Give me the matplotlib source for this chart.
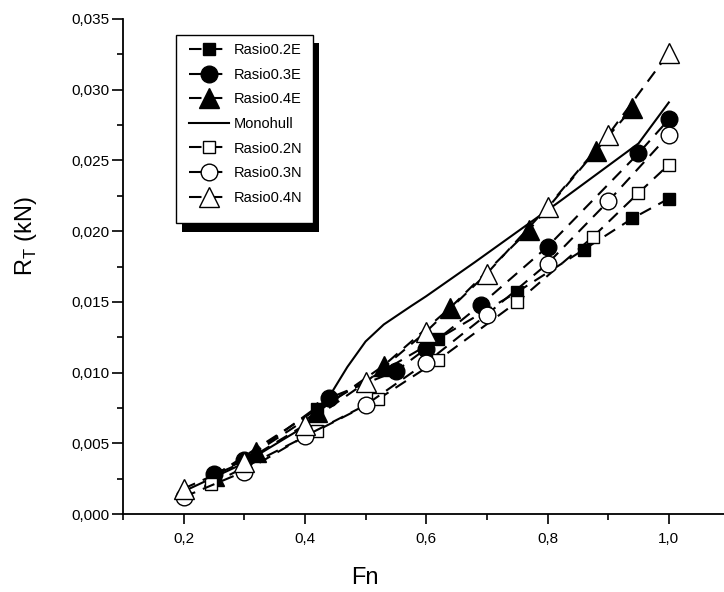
import matplotlib
matplotlib.use("Agg")
import matplotlib.pyplot as plt
from matplotlib.patches import Rectangle
from matplotlib.ticker import MultipleLocator, FixedLocator, FixedFormatter

# ---- data ----
fn_02E = [0.25, 0.42, 0.62, 0.75, 0.86, 0.94, 1.00]
rt_02E = [0.0027, 0.0074, 0.0124, 0.0157, 0.0187, 0.0209, 0.0223]

fn_03E = [0.25, 0.30, 0.44, 0.55, 0.60, 0.69, 0.80, 0.95, 1.00]
rt_03E = [0.0028, 0.0038, 0.0082, 0.0101, 0.0117, 0.0148, 0.0189, 0.0255, 0.0279]

fn_04E = [0.25, 0.32, 0.42, 0.53, 0.64, 0.77, 0.88, 0.94]
rt_04E = [0.0027, 0.0044, 0.0072, 0.0105, 0.0146, 0.0201, 0.0257, 0.0287]

fn_mono = [0.20, 0.30, 0.40, 0.44, 0.47, 0.50, 0.53, 0.575, 0.60, 0.68, 0.82, 0.95, 1.00]
rt_mono = [0.0016, 0.0036, 0.0062, 0.0083, 0.0104, 0.0122, 0.0134, 0.0147, 0.0154, 0.0178, 0.0221, 0.0262, 0.0291]

fn_02N = [0.245, 0.42, 0.52, 0.62, 0.75, 0.875, 0.95, 1.00]
rt_02N = [0.0021, 0.0059, 0.0081, 0.0109, 0.0150, 0.0196, 0.0227, 0.0247]

fn_03N = [0.20, 0.30, 0.40, 0.50, 0.60, 0.70, 0.80, 0.90, 1.00]
rt_03N = [0.0012, 0.0030, 0.0055, 0.0077, 0.0107, 0.0141, 0.0177, 0.0221, 0.0268]

fn_04N = [0.20, 0.30, 0.40, 0.50, 0.60, 0.70, 0.80, 0.90, 1.00]
rt_04N = [0.0018, 0.0037, 0.0063, 0.0093, 0.0129, 0.0170, 0.0217, 0.0268, 0.0326]

series_labels = ["Rasio0.2E", "Rasio0.3E", "Rasio0.4E", "Monohull",
                 "Rasio0.2N", "Rasio0.3N", "Rasio0.4N"]

x_ticks = [0.2, 0.4, 0.6, 0.8, 1.0]
x_ticklabels = ["0,2", "0,4", "0,6", "0,8", "1,0"]
y_ticks = [0.000, 0.005, 0.010, 0.015, 0.020, 0.025, 0.030, 0.035]
y_ticklabels = ["0,000", "0,005", "0,010", "0,015", "0,020", "0,025", "0,030", "0,035"]

plt.rcParams["font.family"] = ["Liberation Sans", "DejaVu Sans"]

W, H = 724, 592
fig = plt.figure(figsize=(W / 100, H / 100), dpi=100)
left, bottom = 123 / W, (H - 514) / H
top = (H - 19) / H
ax = fig.add_axes([left, bottom, 1.0 - left, top - bottom])
ax.set_xlim(0.1, 1.091)
ax.set_ylim(0.0, 0.035)

dash = (0, (6, 4))
lw = 1.5
common = dict(lw=lw, color="black", markeredgecolor="black", markeredgewidth=1.0)

ax.plot(fn_02E, rt_02E, linestyle=dash, marker="s", ms=8.5, markerfacecolor="black", label=series_labels[0], **common)
ax.plot(fn_03E, rt_03E, linestyle=dash, marker="o", ms=12, markerfacecolor="black", label=series_labels[1], **common)
ax.plot(fn_04E, rt_04E, linestyle=dash, marker="^", ms=14, markerfacecolor="black", label=series_labels[2], **common)
ax.plot(fn_mono, rt_mono, linestyle="-", lw=lw, color="black", label=series_labels[3])
ax.plot(fn_02N, rt_02N, linestyle=dash, marker="s", ms=8.5, markerfacecolor="white", label=series_labels[4], **common)
ax.plot(fn_03N, rt_03N, linestyle=dash, marker="o", ms=12, markerfacecolor="white", label=series_labels[5], **common)
ax.plot(fn_04N, rt_04N, linestyle=dash, marker="^", ms=14, markerfacecolor="white", label=series_labels[6], **common)

for s in ["top", "right"]:
    ax.spines[s].set_visible(False)
for s in ["left", "bottom"]:
    ax.spines[s].set_linewidth(1.3)

ax.xaxis.set_major_locator(FixedLocator(x_ticks))
ax.xaxis.set_major_formatter(FixedFormatter(x_ticklabels))
ax.xaxis.set_minor_locator(MultipleLocator(0.1))
ax.yaxis.set_major_locator(FixedLocator(y_ticks))
ax.yaxis.set_major_formatter(FixedFormatter(y_ticklabels))
ax.yaxis.set_minor_locator(MultipleLocator(0.0025))

ax.tick_params(axis="x", which="major", direction="out", length=7, width=1.2, labelsize=11, pad=6)
ax.tick_params(axis="x", which="minor", direction="out", length=4, width=1.2)
ax.tick_params(axis="y", which="major", direction="out", length=8, width=1.2, labelsize=11, pad=2)
ax.tick_params(axis="y", which="minor", direction="out", length=4, width=1.2)

fig.text(365 / W, 1 - 578 / H, "Fn", fontsize=17, ha="center", va="center")
fig.text(26 / W, 1 - 236 / H, r"R$_{\mathregular{T}}$ (kN)", fontsize=17, rotation=90,
         ha="center", va="center")

# legend frame with offset black shadow (figure pixel coordinates)
bx0, by0, bx1, by1 = 176, 35, 313, 223


def fig_rect(x0, y0, x1, y1, **kw):
    return Rectangle((x0 / W, 1 - y1 / H), (x1 - x0) / W, (y1 - y0) / H,
                     transform=fig.transFigure, clip_on=False, **kw)


ax.add_patch(fig_rect(bx0 + 6, by0 + 8, bx1 + 6, by1 + 9, facecolor="black", edgecolor="black", lw=0, zorder=4))
ax.add_patch(fig_rect(bx0, by0, bx1, by1, facecolor="white", edgecolor="black", lw=1.0, zorder=4.1))

leg = ax.legend(loc="upper left", bbox_to_anchor=(189 / W, 1 - 43 / H), bbox_transform=fig.transFigure,
                borderaxespad=0, frameon=False, prop={"size": 10.5},
                labelspacing=0.73, handlelength=2.75, handletextpad=0.35, borderpad=0)
leg.set_zorder(5)

fig.savefig("out.png", dpi=100)
